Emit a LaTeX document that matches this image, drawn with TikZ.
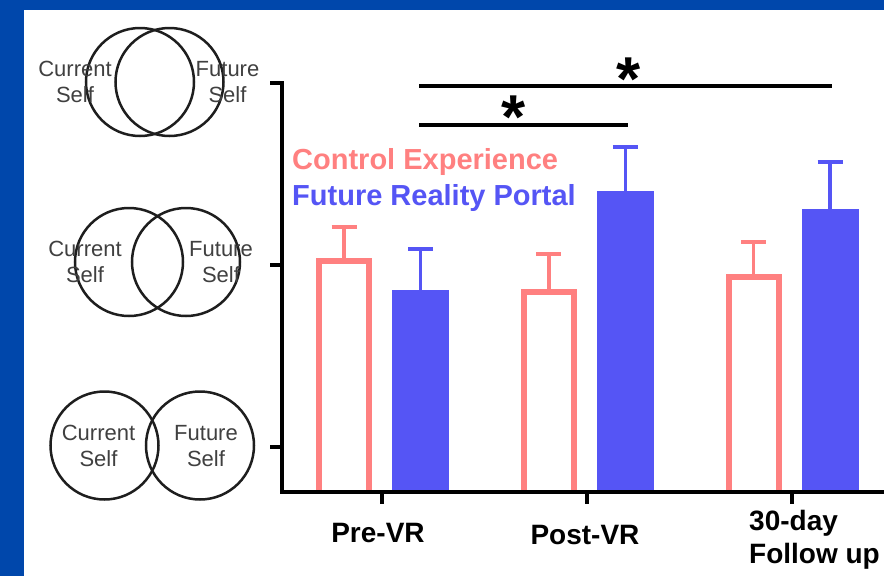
\documentclass[tikz,border=0pt]{standalone}
\usepackage{fontspec}
\setmainfont{Liberation Sans}
\usetikzlibrary{positioning}
\definecolor{SlideBlue}{RGB}{0,71,171}
\definecolor{CtrlPink}{RGB}{255,128,128}
\definecolor{PortalBlue}{RGB}{85,85,245}
\definecolor{VennInk}{RGB}{30,30,30}
\tikzset{
    venn/.style = {draw=VennInk, circle, line width=2.5pt,
        minimum size=108pt, inner sep=0pt},
    vennlabel/.style = {text=VennInk!85, inner sep=0pt, align=center,
        font=\fontsize{22}{26}\selectfont},
    axisline/.style = {line width=4pt, black},
    ctrlbar/.style = {draw=CtrlPink, line width=6pt},
    ctrlerr/.style = {draw=CtrlPink, line width=3.5pt},
    portalerr/.style = {draw=PortalBlue, line width=3.5pt},
    ticklabel/.style = {inner sep=0pt, font=\fontsize{28}{33}\selectfont\bfseries},
    legend/.style = {inner sep=0pt, anchor=west, font=\fontsize{29}{33}\selectfont\bfseries},
    sigline/.style = {line width=4pt, black},
    sigstar/.style = {inner sep=0pt, anchor=base, font=\fontsize{62}{62}\selectfont\bfseries}
}

\begin{document}
\begin{tikzpicture}[x=1pt,y=-1pt]
  \useasboundingbox (0,0) rectangle (884,576);
  \fill[SlideBlue] (0,0) rectangle (884,576);
  \fill[white] (24,10) rectangle (884,576);
  % overlap scale
  \node[venn] (cur1) at (140,82) {};
  \node[venn] (fut1) at (169.5,82) {};
  \node[venn] (cur2) at (129,262) {};
  \node[venn] (fut2) at (186,262) {};
  \node[venn] (cur3) at (104.5,445.5) {};
  \node[venn] (fut3) at (200,445.5) {};
  \node[vennlabel] (lcur1) at (75,82) {Current\\Self};
  \node[vennlabel] (lfut1) at (227.5,82) {Future\\Self};
  \node[vennlabel] (lcur2) at (85,262) {Current\\Self};
  \node[vennlabel] (lfut2) at (221,262) {Future\\Self};
  \node[vennlabel] (lcur3) at (98.5,446) {Current\\Self};
  \node[vennlabel] (lfut3) at (206,446) {Future\\Self};
  % bars
  \foreach \g/\ct/\ce/\pt/\pe in {0/261/227/290/249, 1/292/254/191/147, 2/277/242/209/162}{
    \pgfmathsetmacro\cx{344+204.75*\g}
    \pgfmathsetmacro\px{420.5+204.75*\g}
    \draw[ctrlbar] ({\cx-25},492) -- ({\cx-25},\ct) -- ({\cx+25},\ct) -- ({\cx+25},492);
    \draw[ctrlerr] (\cx,\ct) -- (\cx,\ce) ({\cx-12.5},\ce) -- ({\cx+12.5},\ce);
    \fill[PortalBlue] ({\px-28.5},492) rectangle ({\px+28.5},\pt);
    \draw[portalerr] (\px,\pt) -- (\px,\pe) ({\px-12.5},\pe) -- ({\px+12.5},\pe);
  };
  % axes
  \draw[axisline] (270,83) -- (282,83) -- (282,492) -- (890,492);
  \foreach \y in {265,447}
    \draw[axisline] (270,\y) -- (282,\y);
  \foreach \x in {382,587,792}
    \draw[axisline] (\x,492) -- (\x,504);
  \node[ticklabel] (pre) at (378,533) {Pre-VR};
  \node[ticklabel] (post) at (585,535) {Post-VR};
  \node[ticklabel, anchor=west, align=left] (follow) at (749,540) {30-day\\Follow up};
  % legend
  \node[legend, text=CtrlPink] (ctrl) at (292,162) {Control Experience};
  \node[legend, text=PortalBlue] (portal) at (292,198) {Future Reality Portal};
  % significance
  \coordinate (longL) at (419,86);
  \coordinate (longR) at (832,86);
  \coordinate (shortL) at (419,125);
  \coordinate (shortR) at (628,125);
  \draw[sigline] (longL) -- (longR);
  \draw[sigline] (shortL) -- (shortR);
  \node[sigstar] (star1) at (629,100) {*};
  \node[sigstar] (star2) at (514,138) {*};
\end{tikzpicture}
\end{document}
